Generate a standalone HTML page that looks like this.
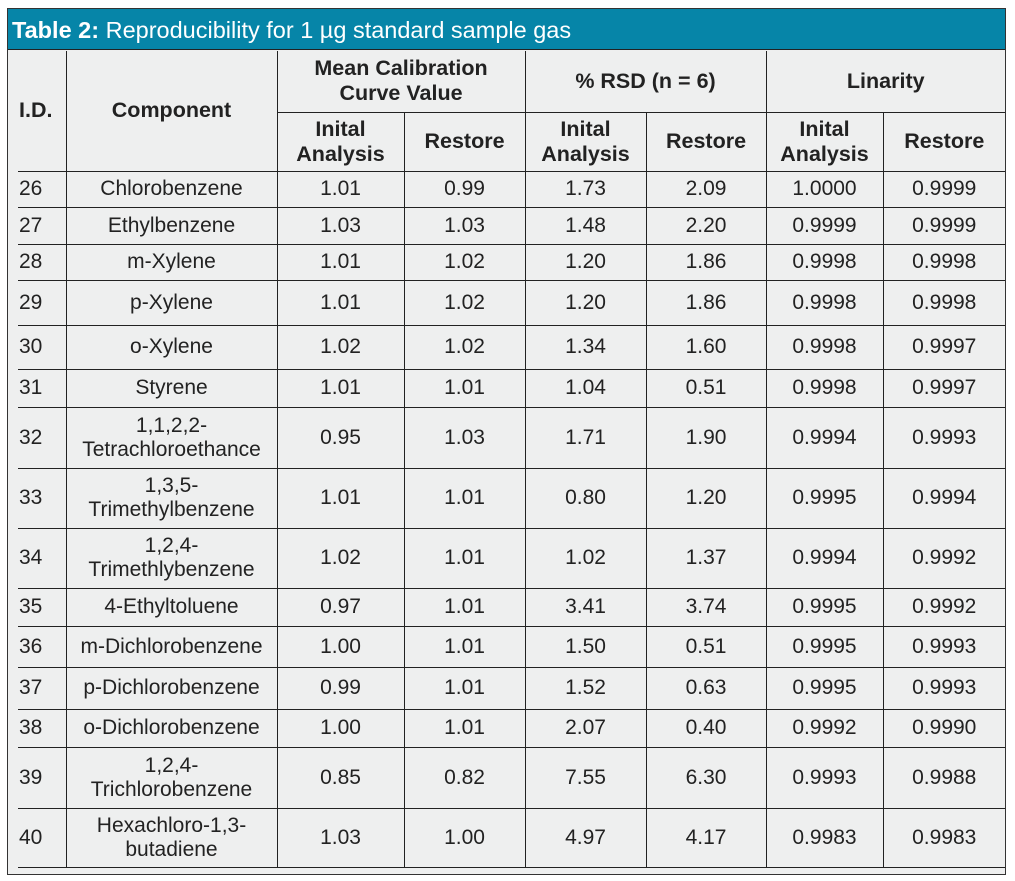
<!DOCTYPE html>
<html><head><meta charset="utf-8"><style>
body{margin:0;width:1015px;height:881px;background:#fff;position:relative;overflow:hidden;font-family:"Liberation Sans",sans-serif;color:#222}
#frame{position:absolute;left:7px;top:8px;width:997px;height:865px;border:1px solid #333;background:#eeefef}
#title{position:absolute;left:0;top:0;width:997px;height:41px;background:#0685a8;border-bottom:1px solid #222;color:#fff;font-size:23.5px;line-height:42px;padding-left:4px;box-sizing:border-box;white-space:nowrap}
table{position:absolute;left:10px;top:42px;border-collapse:collapse;table-layout:fixed;width:987px;font-size:21px}
td,th{border:1px solid #222;padding:0;text-align:center;line-height:24px;white-space:nowrap}
th{font-weight:bold;font-size:21.5px;line-height:25px}
.f{border-left:none;text-align:left;padding-left:1px}
tr>*:last-child{border-right:none}
thead tr:first-child>*{border-top:none}
</style></head><body>
<div id="frame">
<div id="title"><b>Table 2:</b> Reproducibility for 1 µg standard sample gas</div>
<table>
<colgroup><col style="width:48px"><col style="width:211px"><col style="width:127px"><col style="width:121px"><col style="width:121px"><col style="width:120px"><col style="width:117px"><col style="width:122px"></colgroup>
<thead>
<tr style="height:61px"><th class="f" rowspan="2">I.D.</th><th rowspan="2">Component</th><th colspan="2">Mean Calibration<br>Curve Value</th><th colspan="2">% RSD (n = 6)</th><th colspan="2">Linarity</th></tr>
<tr style="height:59px"><th>Inital<br>Analysis</th><th>Restore</th><th>Inital<br>Analysis</th><th>Restore</th><th>Inital<br>Analysis</th><th>Restore</th></tr>
</thead>
<tbody>
<tr style="height:36px"><td class="f">26</td><td>Chlorobenzene</td><td>1.01</td><td>0.99</td><td>1.73</td><td>2.09</td><td>1.0000</td><td>0.9999</td></tr>
<tr style="height:37px"><td class="f">27</td><td>Ethylbenzene</td><td>1.03</td><td>1.03</td><td>1.48</td><td>2.20</td><td>0.9999</td><td>0.9999</td></tr>
<tr style="height:36px"><td class="f">28</td><td>m-Xylene</td><td>1.01</td><td>1.02</td><td>1.20</td><td>1.86</td><td>0.9998</td><td>0.9998</td></tr>
<tr style="height:45px"><td class="f">29</td><td>p-Xylene</td><td>1.01</td><td>1.02</td><td>1.20</td><td>1.86</td><td>0.9998</td><td>0.9998</td></tr>
<tr style="height:44px"><td class="f">30</td><td>o-Xylene</td><td>1.02</td><td>1.02</td><td>1.34</td><td>1.60</td><td>0.9998</td><td>0.9997</td></tr>
<tr style="height:38px"><td class="f">31</td><td>Styrene</td><td>1.01</td><td>1.01</td><td>1.04</td><td>0.51</td><td>0.9998</td><td>0.9997</td></tr>
<tr style="height:61px"><td class="f">32</td><td>1,1,2,2-<br>Tetrachloroethance</td><td>0.95</td><td>1.03</td><td>1.71</td><td>1.90</td><td>0.9994</td><td>0.9993</td></tr>
<tr style="height:60px"><td class="f">33</td><td>1,3,5-<br>Trimethylbenzene</td><td>1.01</td><td>1.01</td><td>0.80</td><td>1.20</td><td>0.9995</td><td>0.9994</td></tr>
<tr style="height:60px"><td class="f">34</td><td>1,2,4-<br>Trimethlybenzene</td><td>1.02</td><td>1.01</td><td>1.02</td><td>1.37</td><td>0.9994</td><td>0.9992</td></tr>
<tr style="height:38px"><td class="f">35</td><td>4-Ethyltoluene</td><td>0.97</td><td>1.01</td><td>3.41</td><td>3.74</td><td>0.9995</td><td>0.9992</td></tr>
<tr style="height:41px"><td class="f">36</td><td>m-Dichlorobenzene</td><td>1.00</td><td>1.01</td><td>1.50</td><td>0.51</td><td>0.9995</td><td>0.9993</td></tr>
<tr style="height:42px"><td class="f">37</td><td>p-Dichlorobenzene</td><td>0.99</td><td>1.01</td><td>1.52</td><td>0.63</td><td>0.9995</td><td>0.9993</td></tr>
<tr style="height:38px"><td class="f">38</td><td>o-Dichlorobenzene</td><td>1.00</td><td>1.01</td><td>2.07</td><td>0.40</td><td>0.9992</td><td>0.9990</td></tr>
<tr style="height:61px"><td class="f">39</td><td>1,2,4-<br>Trichlorobenzene</td><td>0.85</td><td>0.82</td><td>7.55</td><td>6.30</td><td>0.9993</td><td>0.9988</td></tr>
<tr style="height:59px"><td class="f">40</td><td>Hexachloro-1,3-<br>butadiene</td><td>1.03</td><td>1.00</td><td>4.97</td><td>4.17</td><td>0.9983</td><td>0.9983</td></tr>
</tbody>
</table>
</div>
</body></html>
